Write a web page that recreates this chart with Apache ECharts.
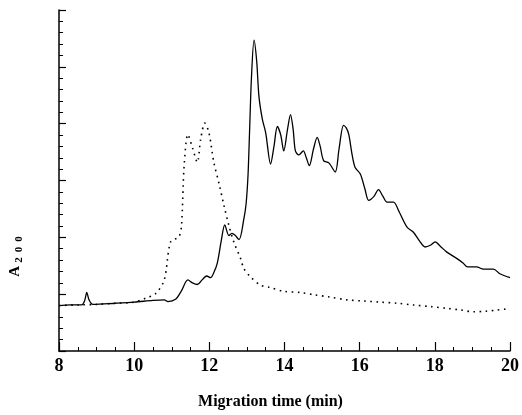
<!DOCTYPE html>
<html>
<head>
<meta charset="utf-8">
<script src="https://cdn.jsdelivr.net/npm/echarts@6/dist/echarts.min.js"></script>
<style>
  html, body { margin: 0; padding: 0; background: #fff; }
  #chart { width: 522px; height: 415px; }
</style>
</head>
<body>
<div id="chart"></div>
<script>
// solid trace
const solidTimes = [8.0, 8.3, 8.6, 8.68, 8.74, 8.8, 8.9, 9.5, 10.0, 10.5, 10.8, 10.9, 11.1, 11.25, 11.43, 11.55, 11.68, 11.82, 11.93, 12.03, 12.12, 12.21, 12.32, 12.41, 12.52, 12.6, 12.68, 12.79, 12.92, 12.98, 13.03, 13.07, 13.12, 13.19, 13.26, 13.32, 13.41, 13.5, 13.63, 13.72, 13.81, 13.9, 13.98, 14.08, 14.16, 14.23, 14.29, 14.38, 14.5, 14.58, 14.66, 14.77, 14.87, 14.95, 15.04, 15.18, 15.35, 15.45, 15.57, 15.64, 15.71, 15.8, 15.88, 16.02, 16.14, 16.24, 16.38, 16.5, 16.62, 16.73, 16.9, 17.05, 17.26, 17.43, 17.6, 17.74, 17.88, 18.01, 18.15, 18.32, 18.58, 18.75, 18.87, 19.11, 19.29, 19.56, 19.73, 20.0]
const solidValues = [0.80, 0.81, 0.81, 0.88, 1.03, 0.90, 0.82, 0.84, 0.86, 0.89, 0.90, 0.87, 0.91, 1.05, 1.25, 1.20, 1.17, 1.26, 1.32, 1.29, 1.38, 1.54, 1.95, 2.22, 2.03, 2.07, 2.04, 1.96, 2.33, 2.6, 3.1, 3.85, 4.8, 5.47, 5.1, 4.48, 4.08, 3.84, 3.29, 3.6, 3.95, 3.8, 3.52, 3.9, 4.16, 3.9, 3.52, 3.45, 3.52, 3.4, 3.26, 3.55, 3.76, 3.6, 3.35, 3.31, 3.15, 3.55, 3.97, 3.93, 3.81, 3.45, 3.23, 3.11, 2.85, 2.65, 2.72, 2.84, 2.72, 2.62, 2.62, 2.45, 2.18, 2.09, 1.93, 1.83, 1.86, 1.92, 1.84, 1.74, 1.63, 1.55, 1.48, 1.48, 1.44, 1.44, 1.36, 1.29]

// dotted trace
const dottedTimes = [8.0, 8.5, 9.0, 9.5, 10.0, 10.31, 10.57, 10.8, 10.97, 11.19, 11.26, 11.33, 11.43, 11.55, 11.68, 11.77, 11.88, 11.99, 12.12, 12.26, 12.39, 12.52, 12.65, 12.83, 12.92, 13.1, 13.36, 13.6, 13.98, 14.42, 14.78, 15.2, 15.66, 16.1, 16.55, 17.0, 17.43, 17.9, 18.32, 18.7, 19.03, 19.35, 19.65, 19.91]
const dottedValues = [0.80, 0.81, 0.82, 0.84, 0.86, 0.93, 1.01, 1.25, 1.92, 2.01, 2.21, 3.26, 3.81, 3.58, 3.32, 3.73, 4.01, 3.84, 3.32, 2.94, 2.56, 2.21, 1.92, 1.63, 1.45, 1.30, 1.16, 1.12, 1.05, 1.03, 0.99, 0.95, 0.90, 0.88, 0.86, 0.84, 0.81, 0.78, 0.75, 0.72, 0.69, 0.70, 0.72, 0.74]

const xTicks = [8, 10, 12, 14, 16, 18, 20]

const serif = '"Liberation Serif", "Times New Roman", serif'

const chart = echarts.init(document.getElementById('chart'))

chart.setOption({
  animation: false,
  grid: { left: 58, right: 12, top: 10, bottom: 62 },
  xAxis: {
    type: 'value',
    min: xTicks[0],
    max: xTicks[xTicks.length - 1],
    interval: 2,
    name: 'Migration time (min)',
    nameLocation: 'middle',
    nameGap: 43,
    nameTextStyle: { fontFamily: serif, fontWeight: 'bold', fontSize: 16, color: '#000', padding: [0, 28, 0, 0] },
    axisLine: { lineStyle: { color: '#000', width: 1.5 } },
    axisTick: { inside: true, length: 9, lineStyle: { color: '#000', width: 1.2 } },
    minorTick: { show: true, splitNumber: 4, length: 4, lineStyle: { color: '#000', width: 1 } },
    splitLine: { show: false },
    axisLabel: { fontFamily: serif, fontWeight: 'bold', fontSize: 18, color: '#000', margin: 6 }
  },
  yAxis: {
    type: 'value',
    min: 0,
    max: 6,
    interval: 1,
    name: '{a|A}{s|2}{s|0}{s|0}',
    nameLocation: 'middle',
    nameRotate: 90,
    nameGap: 34,
    nameTextStyle: {
      color: '#000',
      padding: [0, 150, 0, 0],
      rich: {
        a: { fontFamily: serif, fontWeight: 'bold', fontSize: 15, color: '#000' },
        s: { fontFamily: serif, fontWeight: 'bold', fontSize: 11, color: '#000', padding: [8, 2, 0, 3] }
      }
    },
    axisLine: { show: true, lineStyle: { color: '#000', width: 1.5 } },
    axisTick: { show: true, inside: true, length: 7, lineStyle: { color: '#000', width: 1.2 } },
    minorTick: { show: true, splitNumber: 5, length: 4, lineStyle: { color: '#000', width: 1 } },
    splitLine: { show: false },
    axisLabel: { show: false }
  },
  series: [
    {
      type: 'line',
      data: dottedTimes.map((t, i) => [t, dottedValues[i]]),
      showSymbol: false,
      smooth: 0.3,
      lineStyle: { color: '#000', width: 1.6, type: [1.6, 4.5] }
    },
    {
      type: 'line',
      data: solidTimes.map((t, i) => [t, solidValues[i]]),
      showSymbol: false,
      smooth: 0.3,
      lineStyle: { color: '#000', width: 1.3 }
    }
  ]
})
</script>
</body>
</html>
